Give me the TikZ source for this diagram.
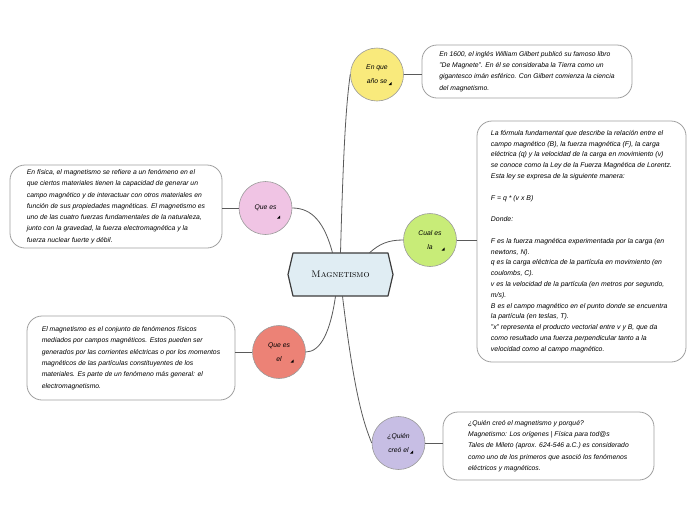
\documentclass[tikz,border=0pt]{standalone}
\usepackage{fontspec}
\setsansfont{Liberation Sans}
\definecolor{qyellow}{HTML}{F9EA7C}
\definecolor{qpink}{HTML}{F0C4E4}
\definecolor{qgreen}{HTML}{C8EC78}
\definecolor{qred}{HTML}{EC8276}
\definecolor{qpurple}{HTML}{C7BEE4}
\definecolor{hexblue}{HTML}{E0EDF3}
\definecolor{hexgray}{HTML}{3C3C3C}
\definecolor{linkgray}{HTML}{5A5A5A}
\definecolor{circgray}{HTML}{9A9A9A}
\definecolor{boxgray}{HTML}{A0A0A0}

\begin{document}
\begin{tikzpicture}[x=1pt, y=-1pt,
    link/.style={draw=linkgray, line width=0.8pt},
    question/.style={circle, draw=circgray, line width=0.6pt, minimum size=53pt, inner sep=0pt,
        align=center, font=\fontsize{6.8}{14}\selectfont\sffamily\itshape},
    answer/.style={rectangle, rounded corners=15pt, draw=boxgray, line width=0.8pt, fill=white,
        align=left, inner sep=0pt, font=\fontsize{6.8}{11.3}\selectfont\sffamily\itshape},
    topic/.style={rectangle, minimum width=105pt, minimum height=43pt, inner sep=0pt,
        font=\fontsize{9.5}{11}\selectfont\scshape}]
    \useasboundingbox (0,0) rectangle (696,520);

    % Central topic
    \coordinate (c) at (340.5,274.5);
    \draw[draw=hexgray, line width=1.2pt, fill=hexblue, line join=round]
        ([shift={(-52.5,0)}]c) -- ([shift={(-47.5,-21.5)}]c) -- ([shift={(47.5,-21.5)}]c)
        -- ([shift={(52.5,0)}]c) -- ([shift={(47.5,21.5)}]c) -- ([shift={(-47.5,21.5)}]c) -- cycle;
    \node[topic] (C) at (c) {Magnetismo};

    % Questions
    \node[question, fill=qyellow] (Q1) at (377,74.5) {En que\\año se};
    \node[question, fill=qpink] (Q2) at (265.5,208) {Que es};
    \node[question, fill=qgreen] (Q3) at (430,240) {Cual es\\la};
    \node[question, fill=qred] (Q4) at (279,352) {Que es\\el};
    \node[question, fill=qpurple] (Q5) at (398.5,443) {¿Quién\\creó el};
    \foreach \i in {1,...,5}
        \fill ([shift={(11.5,10.5)}]Q\i.center) -- ++(3,0) -- ++(0,-3) -- cycle;

    % Answers
    \node[answer, minimum width=210pt, minimum height=53pt] (A1) at (527,71.5) {%
        En 1600, el inglés William Gilbert publicó su famoso libro\\
        "De Magnete". En él se consideraba la Tierra como un\\
        gigantesco imán esférico. Con Gilbert comienza la ciencia\\
        del magnetismo.};
    \node[answer, minimum width=212pt, minimum height=83pt] (A2) at (116,206.5) {%
        En física, el magnetismo se refiere a un fenómeno en el\\
        que ciertos materiales tienen la capacidad de generar un\\
        campo magnético y de interactuar con otros materiales en\\
        función de sus propiedades magnéticas. El magnetismo es\\
        uno de las cuatro fuerzas fundamentales de la naturaleza,\\
        junto con la gravedad, la fuerza electromagnética y la\\
        fuerza nuclear fuerte y débil.};
    \node[answer, minimum width=209pt, minimum height=241pt,
        font=\fontsize{6.9}{10.8}\selectfont\sffamily\itshape] (A3) at (581.5,241.5) {%
        La fórmula fundamental que describe la relación entre el\\
        campo magnético (B), la fuerza magnética (F), la carga\\
        eléctrica (q) y la velocidad de la carga en movimiento (v)\\
        se conoce como la Ley de la Fuerza Magnética de Lorentz.\\
        Esta ley se expresa de la siguiente manera:\\[10.8pt]
        F = q * (v x B)\\[10.8pt]
        Donde:\\[10.8pt]
        F es la fuerza magnética experimentada por la carga (en\\
        newtons, N).\\
        q es la carga eléctrica de la partícula en movimiento (en\\
        coulombs, C).\\
        v es la velocidad de la partícula (en metros por segundo,\\
        m/s).\\
        B es el campo magnético en el punto donde se encuentra\\
        la partícula (en teslas, T).\\
        "x" representa el producto vectorial entre v y B, que da\\
        como resultado una fuerza perpendicular tanto a la\\
        velocidad como al campo magnético.};
    \node[answer, minimum width=208pt, minimum height=84pt] (A4) at (131,358) {%
        El magnetismo es el conjunto de fenómenos físicos\\
        mediados por campos magnéticos. Estos pueden ser\\
        generados por las corrientes eléctricas o por los momentos\\
        magnéticos de las partículas constituyentes de los\\
        materiales. Es parte de un fenómeno más general: el\\
        electromagnetismo.};
    \node[answer, minimum width=211pt, minimum height=68pt] (A5) at (548.5,446) {%
        ¿Quién creó el magnetismo y porqué?\\
        Magnetismo: Los orígenes | Física para tod@s\\
        Tales de Mileto (aprox. 624-546 a.C.) es considerado\\
        como uno de los primeros que asoció los fenómenos\\
        eléctricos y magnéticos.};

    % Branches
    \draw[link] (C.north) .. controls +(3,-110) and +(-4,30) .. (Q1.west);
    \draw[link] ([xshift=-8pt]C.north) .. controls +(-8,-30) and +(20,0) .. (Q2.east);
    \draw[link] ([xshift=29pt]C.north) .. controls +(10,-9) and +(-15,0) .. (Q3.west);
    \draw[link] ([xshift=-5pt]C.south) .. controls +(-5,35) and +(15,0) .. (Q4.east);
    \draw[link] ([xshift=2pt]C.south) .. controls +(12,100) and +(-8,-20) .. (Q5.west);

    % Question to answer
    \foreach \i in {1,3,5}
        \draw[link] (Q\i.east) -- (Q\i.east -| A\i.west);
    \foreach \i in {2,4}
        \draw[link] (Q\i.west) -- (Q\i.west -| A\i.east);
\end{tikzpicture}
\end{document}
